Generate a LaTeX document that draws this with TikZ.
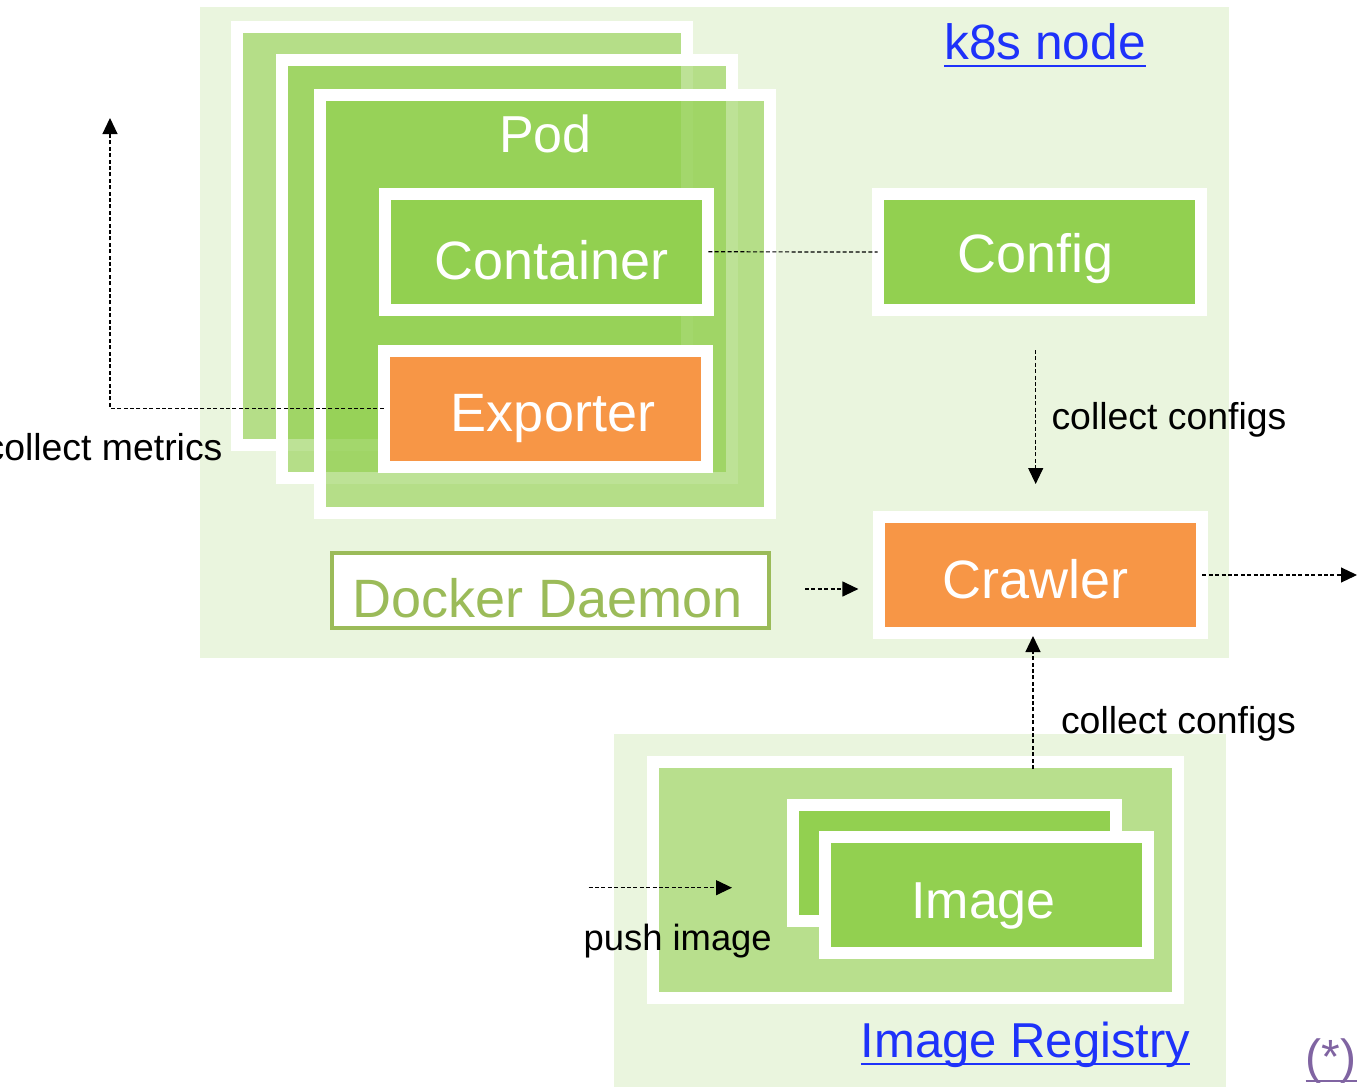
\documentclass[tikz,border=0pt]{standalone}
\usepackage{fontspec}
\setmainfont{Liberation Sans}
\usetikzlibrary{positioning, arrows.meta, calc}

\definecolor{nodebg}{RGB}{234,245,222}
\definecolor{palegreen}{RGB}{184,223,141}
\definecolor{boxgreen}{RGB}{146,208,80}
\definecolor{boxorange}{RGB}{247,150,70}
\definecolor{olive}{RGB}{155,187,89}
\definecolor{linkblue}{RGB}{30,50,250}
\definecolor{notepurple}{RGB}{128,100,162}

\begin{document}
\begin{tikzpicture}[
  x=0.5pt, y=-0.5pt,
  >={Triangle[length=8pt, width=7.5pt]},
  every node/.style={inner sep=0pt, outer sep=0pt},
  area/.style    ={fill=nodebg, draw=none},
  podframe/.style={draw=white, line width=6pt, fill=boxgreen, fill opacity=0.6},
  wbox/.style    ={rectangle, draw=white, line width=6pt, minimum width=161.5pt, minimum height=58pt},
  gbox/.style    ={wbox, fill=boxgreen},
  obox/.style    ={wbox, fill=boxorange},
  boxtxt/.style  ={anchor=base, text=white, font=\fontsize{27pt}{30pt}\selectfont},
  linktxt/.style ={anchor=base, text=linkblue, font=\fontsize{24.8pt}{28pt}\selectfont},
  lbl/.style     ={font=\fontsize{18.7pt}{22pt}\selectfont},
  uline/.style   ={line width=1.4pt},
  flow/.style    ={line width=0.6pt, dash pattern=on 2pt off 1.2pt},
]
  \useasboundingbox (0,0) rectangle (1357,1087);
  % k8s node and registry areas
  \fill[area] (200,7) rectangle (1229,658);
  \fill[area] (614,734) rectangle (1226,1087);

  % stacked pods
  \foreach \xa/\ya/\xb/\yb in {237/27.4/687/445.2, 282.3/59.5/732.2/477.8, 319.8/94.7/770/512.8}
    \draw[podframe] (\xa,\ya) rectangle (\xb,\yb);
  \node[boxtxt, font=\fontsize{26pt}{30pt}\selectfont] (podtxt) at (545.5,152) {Pod};

  \node[gbox] (cont) at (546.8,251.8) {};
  \node[boxtxt] (conttxt) at (551.5,279) {Container};
  \node[obox] (exp) at (545,408.5) {};
  \node[boxtxt] (exptxt) at (553,431.5) {Exporter};

  \node[gbox] (cfg) at (1039,252) {};
  \node[boxtxt] (cfgtxt) at (1035.5,272) {Config};
  \node[obox] (crawl) at (1040.9,575) {};
  \node[boxtxt] (crawltxt) at (1036,598) {Crawler};

  \node[rectangle, draw=olive, line width=2pt, fill=white, minimum width=218.5pt, minimum height=37.5pt] (dock) at (550.5,590.5) {};
  \node[boxtxt, text=olive] (docktxt) at (548,617) {Docker Daemon};

  % registry with images
  \node[rectangle, draw=white, line width=6pt, fill=palegreen, minimum width=262.5pt, minimum height=118pt] (reg) at (915.9,879.6) {};
  \node[gbox, minimum width=161.6pt, minimum height=57.9pt] (imgback) at (954.5,862.9) {};
  \node[gbox, minimum width=161.6pt, minimum height=58.1pt] (img) at (986.7,895.2) {};
  \node[boxtxt, font=\fontsize{26pt}{30pt}\selectfont] (imgtxt) at (983.5,918) {Image};

  % titles
  \node[linktxt] (k8s) at (1045,59) {k8s node};
  \draw[uline, linkblue] ($(k8s.base west)+(0,7)$) -- ($(k8s.base east)+(0,7)$);
  \node[linktxt, font=\fontsize{24.5pt}{28pt}\selectfont] (regtxt) at (1025.5,1057) {Image Registry};
  \draw[uline, linkblue] ($(regtxt.base west)+(0,7)$) -- ($(regtxt.base east)+(0,7)$);
  \node[anchor=base, text=notepurple, font=\fontsize{24pt}{28pt}\selectfont] (note) at (1331,1073) {(*)};
  \draw[uline, notepurple] ($(note.base west)+(0,8)$) -- ($(note.base east)+(6,8)$);

  % connectors
  \coordinate (metrics) at (110,118);
  \coordinate (out) at (1357,575);
  \coordinate (regtap) at (1033,769);
  \coordinate (pushsrc) at (588.6,887.7);
  \coordinate (pushdst) at (732,887.7);
  \draw[flow] (cont.east) -- (cfg.west);
  \draw[flow,->] (exp.west) -| (metrics);
  \draw[flow,->] ($(cfg.south)+(-3.3,40)$) -- ($(cfg.south |- crawl.north)+(-3.3,-33)$);
  \draw[flow,->] ($(dock.east)+(36,-1.5)$) -- ($(crawl.west |- dock.east)+(-21,-1.5)$);
  \draw[flow,->] (crawl.east) -- (out);
  \draw[flow,->] (regtap) -- ($(crawl.south -| regtap)+(0,3)$);
  \draw[flow,->] (pushsrc) -- (pushdst);

  % connector labels
  \node[lbl, anchor=base east] (metricstxt) at (222.5,460) {collect metrics};
  \node[lbl, anchor=base west] (cfgcollect) at (1051.5,429.3) {collect configs};
  \node[lbl, anchor=base west] (regcollect) at (1061,733) {collect configs};
  \node[lbl, anchor=base west, font=\fontsize{18.2pt}{22pt}\selectfont] (pushtxt) at (583.6,950) {push image};
\end{tikzpicture}
\end{document}
